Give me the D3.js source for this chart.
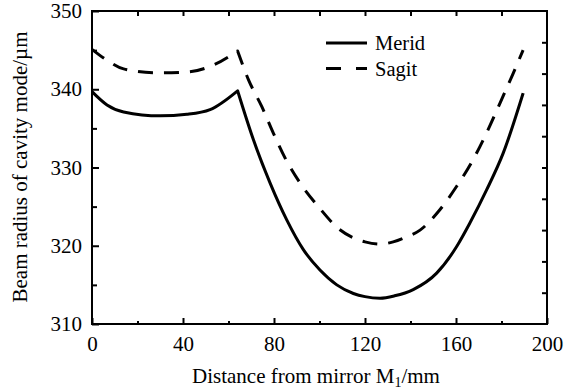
<!DOCTYPE html>
<html>
<head>
<meta charset="utf-8">
<script src="https://cdn.jsdelivr.net/npm/d3@7"></script>
</head>
<body style="margin:0">
<script>
// distance from mirror M1 (mm) and beam radius (µm)
const meridX = [0, 6.6, 13.9, 30, 41.7, 51.9, 64, 71, 78.3, 85.6, 92.9, 100.2, 107.6, 114.9, 120, 126.6, 133, 141.2, 151.5, 160.3, 166.1, 173.4, 180.7, 189.5];
const meridY = [339.7, 338.0, 337.1, 336.6, 336.8, 337.4, 339.8, 333.5, 328.0, 323.3, 319.5, 316.9, 315.0, 313.9, 313.5, 313.3, 313.6, 314.4, 316.5, 319.9, 322.9, 327.1, 331.8, 339.5];
const sagitX = [0, 6.6, 13.9, 28.5, 41.7, 53.4, 64, 68.8, 74.6, 79.7, 84.9, 91.5, 99.5, 108.3, 115, 120, 126.6, 132.4, 138, 144.2, 152.9, 160.3, 167.5, 173.4, 179.3, 185.1, 189.5];
const sagitY = [345.1, 343.7, 342.6, 342.1, 342.2, 343.1, 344.9, 341.2, 337.8, 334.4, 331.2, 328.0, 325.0, 322.2, 321.0, 320.5, 320.2, 320.5, 321.1, 322.0, 324.6, 327.6, 331.0, 334.4, 338.2, 342.0, 345.0];

const seriesNames = ["Merid", "Sagit"];
const xTicks = [0, 40, 80, 120, 160, 200];
const yTicks = [310, 320, 330, 340, 350];
const cuspX = 64; // kink where the curves restart

const W = 585, H = 391;
const margin = {top: 11, right: 38, bottom: 67, left: 92};
const iw = W - margin.left - margin.right;
const ih = H - margin.top - margin.bottom;

const svg = d3.select("body").append("svg")
  .attr("width", W)
  .attr("height", H)
  .attr("font-family", "Times New Roman");

const x = d3.scaleLinear().domain([0, 200]).range([margin.left, margin.left + iw]);
const y = d3.scaleLinear().domain([310, 350]).range([margin.top + ih, margin.top]);

/** Curves: smooth on each side of the kink */
const line = d3.line()
  .x(d => x(d[0]))
  .y(d => y(d[1]))
  .curve(d3.curveMonotoneX);

function curvePath(pts) {
  const left = pts.filter(p => p[0] <= cuspX);
  const right = pts.filter(p => p[0] >= cuspX);
  return line(left) + line(right).replace(/^M[^A-Za-z]*/, "L" + x(cuspX) + "," + y(left[left.length - 1][1]));
}

const series = [
  {name: seriesNames[0], pts: d3.zip(meridX, meridY), dash: null},
  {name: seriesNames[1], pts: d3.zip(sagitX, sagitY), dash: "15,11"}
];

svg.selectAll("path.curve")
  .data(series)
  .enter()
  .append("path")
  .attr("class", "curve")
  .attr("d", d => curvePath(d.pts))
  .attr("fill", "none")
  .attr("stroke", "#000")
  .attr("stroke-width", 3)
  .attr("stroke-linejoin", "round")
  .attr("stroke-dasharray", d => d.dash);

/** Axes: inward ticks, major with labels, minor without */
const xMinor = d3.range(20, 200, 40);
const yMinor = d3.range(315, 350, 10);

function styleAxis(a) {
  a.attr("font-family", "Times New Roman").attr("font-size", 21);
  a.select(".domain").remove();
  a.selectAll("text").attr("fill", "#000");
  a.selectAll("line").attr("stroke", "#000").attr("stroke-width", 2);
}

svg.append("g")
  .attr("transform", "translate(0," + (margin.top + ih) + ")")
  .call(d3.axisBottom(x).tickValues(xTicks).tickSizeInner(-6).tickSizeOuter(0).tickPadding(12))
  .call(styleAxis);

svg.append("g")
  .attr("transform", "translate(0," + (margin.top + ih) + ")")
  .call(d3.axisBottom(x).tickValues(xMinor).tickSizeInner(-3).tickSizeOuter(0).tickFormat(""))
  .call(styleAxis);

svg.append("g")
  .attr("transform", "translate(" + margin.left + ",0)")
  .call(d3.axisLeft(y).tickValues(yTicks).tickSizeInner(-7).tickSizeOuter(0).tickPadding(10))
  .call(styleAxis);

svg.append("g")
  .attr("transform", "translate(" + margin.left + ",0)")
  .call(d3.axisLeft(y).tickValues(yMinor).tickSizeInner(-5).tickSizeOuter(0).tickFormat(""))
  .call(styleAxis);

// top ticks every 20, right ticks every 4
svg.append("g")
  .attr("transform", "translate(0," + margin.top + ")")
  .call(d3.axisTop(x).tickValues(d3.range(20, 200, 20)).tickSizeInner(-5).tickSizeOuter(0).tickFormat(""))
  .call(styleAxis);

svg.append("g")
  .attr("transform", "translate(" + (margin.left + iw) + ",0)")
  .call(d3.axisRight(y).tickValues(d3.range(314, 350, 4)).tickSizeInner(-5).tickSizeOuter(0).tickFormat(""))
  .call(styleAxis);

svg.append("rect")
  .attr("x", margin.left)
  .attr("y", margin.top)
  .attr("width", iw)
  .attr("height", ih)
  .attr("fill", "none")
  .attr("stroke", "#000")
  .attr("stroke-width", 2);

/** Legend */
series.forEach((d, i) => {
  const ly = 43 + i * 25.6;
  svg.append("line")
    .attr("x1", 326).attr("x2", 367)
    .attr("y1", ly).attr("y2", ly)
    .attr("stroke", "#000")
    .attr("stroke-width", 3)
    .attr("stroke-dasharray", d.dash ? "15,15" : null);
  svg.append("text")
    .attr("x", 375)
    .attr("y", ly + 7)
    .attr("font-family", "Times New Roman")
    .attr("font-size", 20.5)
    .text(d.name);
});

/** Axis titles */
const xt = svg.append("text")
  .attr("x", 316)
  .attr("y", 383)
  .attr("text-anchor", "middle")
  .attr("font-family", "Times New Roman")
  .attr("font-size", 21);
xt.append("tspan").text("Distance from mirror M");
xt.append("tspan").attr("dy", 4).attr("font-size", 14).text("1");
xt.append("tspan").attr("dy", -4).text("/mm");

svg.append("text")
  .attr("transform", "translate(27,167) rotate(-90)")
  .attr("text-anchor", "middle")
  .attr("font-family", "Times New Roman")
  .attr("font-size", 21)
  .text("Beam radius of cavity mode/µm");
</script>
</body>
</html>
